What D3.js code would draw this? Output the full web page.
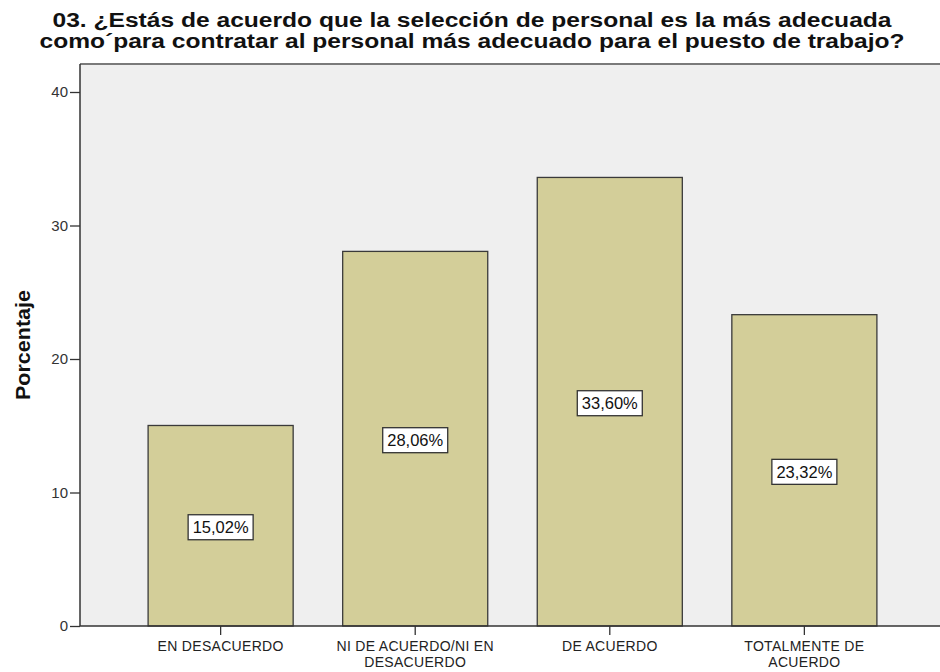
<!DOCTYPE html>
<html>
<head>
<meta charset="utf-8">
<script src="https://cdn.jsdelivr.net/npm/d3@7"></script>
<style>
  body { margin: 0; background: #fff; }
  svg text { font-family: "Liberation Sans", Arial, sans-serif; }
</style>
</head>
<body>
<svg id="chart" width="940" height="672"></svg>
<script>
var categories = ["EN DESACUERDO", "NI DE ACUERDO/NI EN DESACUERDO", "DE ACUERDO", "TOTALMENTE DE ACUERDO"];
var categoryLines = [["EN DESACUERDO"], ["NI DE ACUERDO/NI EN", "DESACUERDO"], ["DE ACUERDO"], ["TOTALMENTE DE", "ACUERDO"]];
var values = [15.02, 28.06, 33.60, 23.32];
var yTicks = [0, 10, 20, 30, 40];
var titleLines = [
  "03. ¿Estás de acuerdo que la selección de personal es la más adecuada",
  "como´para contratar al personal más adecuado para el puesto de trabajo?"
];

var svg = d3.select("#chart");
var plotLeft = 80, plotRight = 945, plotTop = 64, plotBottom = 626;

var x = d3.scaleBand()
    .domain(categories)
    .range([plotLeft, plotRight])
    .paddingInner(0.2545)
    .paddingOuter(0.35);

var y = d3.scaleLinear()
    .domain([0, 40])
    .range([plotBottom, plotBottom - 40 * 13.35]);

// plot background
svg.append("rect")
    .attr("x", plotLeft).attr("y", plotTop)
    .attr("width", 940 - plotLeft).attr("height", plotBottom - plotTop)
    .attr("fill", "#efefef");
svg.append("line")
    .attr("x1", plotLeft).attr("x2", 940)
    .attr("y1", plotTop).attr("y2", plotTop)
    .attr("stroke", "#7a7a7a").attr("stroke-width", 2);

// title
var titleLen = [839, 865];
svg.selectAll(".title")
    .data(titleLines)
    .enter().append("text")
    .attr("class", "title")
    .attr("x", 472)
    .attr("y", function(d, i){ return 27 + i * 21; })
    .attr("text-anchor", "middle")
    .attr("font-size", 20).attr("font-weight", "bold")
    .attr("fill", "#111")
    .attr("textLength", function(d, i){ return titleLen[i]; })
    .attr("lengthAdjust", "spacingAndGlyphs")
    .text(function(d){ return d; });

// bars
svg.selectAll(".bar")
    .data(values)
    .enter().append("rect")
    .attr("class", "bar")
    .attr("x", function(d, i){ return x(categories[i]); })
    .attr("y", function(d){ return y(d); })
    .attr("width", x.bandwidth())
    .attr("height", function(d){ return plotBottom - y(d); })
    .attr("fill", "#d3ce99")
    .attr("stroke", "#3a3a3a")
    .attr("stroke-width", 1.3);

// value labels
var lab = svg.selectAll(".lab")
    .data(values)
    .enter().append("g")
    .attr("class", "lab")
    .attr("transform", function(d, i){
        var cx = x(categories[i]) + x.bandwidth() / 2;
        var cy = (y(d) + plotBottom) / 2 + 1.5;
        return "translate(" + cx + "," + cy + ")";
    });
lab.append("rect")
    .attr("x", -32.5).attr("y", -12.5)
    .attr("width", 65).attr("height", 25)
    .attr("fill", "#fff")
    .attr("stroke", "#333").attr("stroke-width", 1.3);
lab.append("text")
    .attr("text-anchor", "middle")
    .attr("dy", "0.36em")
    .attr("font-size", 16.5)
    .attr("fill", "#111")
    .text(function(d){ return d.toFixed(2).replace(".", ",") + "%"; });

// y axis
var yAxis = svg.append("g")
    .attr("transform", "translate(" + plotLeft + ",0)")
    .call(d3.axisLeft(y).tickValues(yTicks).tickSize(10).tickPadding(2));
yAxis.select(".domain").attr("stroke", "#333").attr("stroke-width", 1.5)
    .attr("d", "M0," + plotTop + "V" + plotBottom);
yAxis.selectAll(".tick line").attr("stroke", "#333").attr("stroke-width", 1.3);
yAxis.selectAll(".tick text")
    .attr("font-size", 15).attr("fill", "#333")
    .attr("font-family", "Liberation Sans, Arial, sans-serif");

// x axis
var xAxis = svg.append("g")
    .attr("transform", "translate(0," + plotBottom + ")")
    .call(d3.axisBottom(x).tickSize(9).tickFormat(""));
xAxis.select(".domain").attr("stroke", "#333").attr("stroke-width", 1.5)
    .attr("d", "M" + plotLeft + ",0H940");
xAxis.selectAll(".tick line").attr("stroke", "#333").attr("stroke-width", 1.3);

svg.selectAll(".xlab")
    .data(categoryLines)
    .enter().append("text")
    .attr("class", "xlab")
    .attr("text-anchor", "middle")
    .attr("font-size", 14)
    .attr("letter-spacing", 0.3)
    .attr("fill", "#222")
    .attr("y", 651)
    .each(function(lines, i){
        var cx = x(categories[i]) + x.bandwidth() / 2;
        d3.select(this).selectAll("tspan")
            .data(lines)
            .enter().append("tspan")
            .attr("x", cx)
            .attr("dy", function(d, j){ return j === 0 ? 0 : 15.5; })
            .text(function(d){ return d; });
    });

// y axis title
svg.append("text")
    .attr("transform", "translate(29.5,345) rotate(-90)")
    .attr("text-anchor", "middle")
    .attr("font-size", 20).attr("font-weight", "bold")
    .attr("fill", "#111")
    .attr("textLength", 110)
    .attr("lengthAdjust", "spacingAndGlyphs")
    .text("Porcentaje");
</script>
</body>
</html>
